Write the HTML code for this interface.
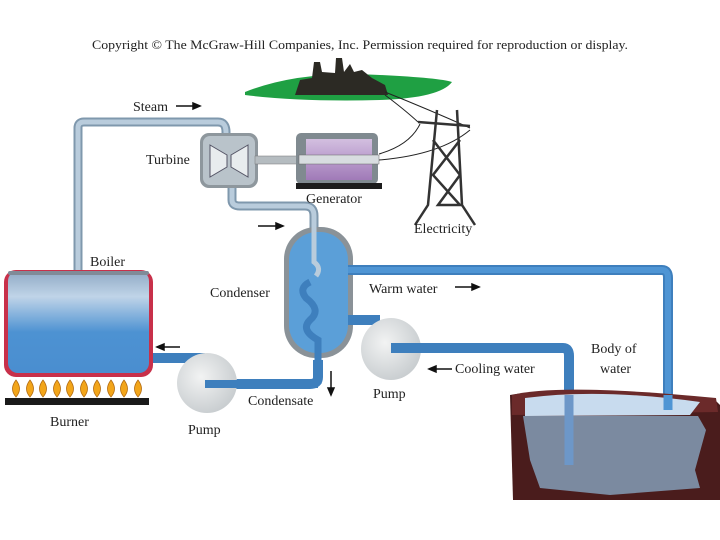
<!DOCTYPE html>
<html><head><meta charset="utf-8"><style>
html,body{margin:0;padding:0;background:#fff;}
svg{display:block;}
text{font-family:"Liberation Serif",serif;font-size:14px;fill:#222;}
</style></head><body>
<svg width="720" height="540" viewBox="0 0 720 540">
<defs>
<linearGradient id="boil" x1="0" y1="0" x2="0" y2="1">
<stop offset="0" stop-color="#8fa9c4"/><stop offset="0.25" stop-color="#c0d4e8"/><stop offset="0.6" stop-color="#4d92d2"/><stop offset="1" stop-color="#4a8ed0"/></linearGradient>
<radialGradient id="pump" cx="0.4" cy="0.4" r="0.7"><stop offset="0" stop-color="#f2f3f3"/><stop offset="1" stop-color="#c4c9cc"/></radialGradient>
<linearGradient id="gen" x1="0" y1="0" x2="0" y2="1"><stop offset="0" stop-color="#d3bfe0"/><stop offset="1" stop-color="#a07ab8"/></linearGradient>
</defs>
<text x="92" y="49" textLength="536" lengthAdjust="spacingAndGlyphs" style="font-size:13px">Copyright © The McGraw-Hill Companies, Inc. Permission required for reproduction or display.</text>
<!-- city -->
<path d="M245 92 Q300 70 380 75 Q440 78 452 82 Q440 98 380 100 Q300 102 245 95Z" fill="#1fa043"/>
<path d="M295 95 L300 80 L312 78 L314 62 L320 62 L322 72 L335 73 L336 58 L342 58 L344 72 L350 64 L354 72 L362 70 L372 78 L385 85 L388 95 Z" fill="#2c2a24"/>
<!-- wires & tower -->
<g stroke="#222" fill="none" stroke-width="1">
<path d="M385 95 Q405 110 418 122"/><path d="M385 92 Q430 110 470 128"/>
<path d="M379 154 Q410 145 420 124"/><path d="M379 160 Q440 155 470 130"/>
</g>
<g stroke="#333" fill="none" stroke-width="2.5">
<path d="M418 122 L470 126"/><path d="M437 110 L428 205 L415 225"/><path d="M457 110 L462 205 L475 225"/>
<path d="M433 140 L460 175 L438 205 L460 205 L433 175 L460 140"/>
</g>
<text x="414" y="233">Electricity</text>
<!-- steam pipe -->
<path d="M78 270 V128 Q78 122 84 122 H218 Q226 122 226 132 V138" stroke="#7f98ad" stroke-width="9" fill="none"/>
<path d="M78 270 V128 Q78 122 84 122 H218 Q226 122 226 132 V138" stroke="#b9ccdc" stroke-width="5" fill="none"/>
<!-- turbine to condenser pipe -->
<path d="M232 185 V200 Q232 206 240 206 H305 Q314 206 314 216 V262 Q322 268 316 276" stroke="#7f98ad" stroke-width="9" fill="none"/>
<!-- condenser -->
<rect x="284" y="227" width="69" height="131" rx="32" fill="#8a9298"/>
<rect x="289" y="232" width="59" height="121" rx="28" fill="#5b9fd8"/>
<path d="M232 185 V200 Q232 206 240 206 H305 Q314 206 314 216 V262 Q322 268 316 276" stroke="#b9ccdc" stroke-width="5" fill="none"/>
<!-- warm water pipe -->
<path d="M348 270 H662 Q668 270 668 278 V410" stroke="#3e7fbd" stroke-width="10" fill="none"/>
<path d="M348 270 H662 Q668 270 668 278 V410" stroke="#4f95d4" stroke-width="6" fill="none"/>
<path d="M318 360 V377 Q318 384 310 384 H205" stroke="#3e7fbd" stroke-width="10" fill="none"/>
<path d="M310 282 Q298 288 306 298 Q322 310 310 320 Q300 330 318 340 V384" stroke="#3e7fbd" stroke-width="7" fill="none"/>
<path d="M348 320 H380" stroke="#3e7fbd" stroke-width="10" fill="none"/>
<!-- pump2 -->
<ellipse cx="391" cy="349" rx="30" ry="31" fill="url(#pump)"/>
<path d="M391 348 H563 Q569 348 569 356 V395" stroke="#3e7fbd" stroke-width="10" fill="none"/>
<!-- boiler -->
<path d="M150 358 H205" stroke="#3e7fbd" stroke-width="10" fill="none"/>
<rect x="4" y="270" width="149" height="107" rx="12" fill="#c8304a"/>
<rect x="8" y="271" width="141" height="102" rx="10" fill="url(#boil)"/>
<rect x="8" y="271" width="141" height="4" rx="2" fill="#808b98"/>
<!-- pump1 -->
<ellipse cx="207" cy="383" rx="30" ry="30" fill="url(#pump)"/>
<path d="M205 384 H318" stroke="#3e7fbd" stroke-width="8" fill="none"/>
<!-- flames -->
<g fill="#f2a51a" stroke="#b36b10" stroke-width="0.8">
<path d="M16 397 Q9 389 16 380 Q23 389 16 397Z"/><path d="M30 397 Q23 389 30 380 Q37 389 30 397Z"/><path d="M43 397 Q36 389 43 380 Q50 389 43 397Z"/><path d="M57 397 Q50 389 57 380 Q64 389 57 397Z"/><path d="M70 397 Q63 389 70 380 Q77 389 70 397Z"/><path d="M84 397 Q77 389 84 380 Q91 389 84 397Z"/><path d="M97 397 Q90 389 97 380 Q104 389 97 397Z"/><path d="M111 397 Q104 389 111 380 Q118 389 111 397Z"/><path d="M124 397 Q117 389 124 380 Q131 389 124 397Z"/><path d="M138 397 Q131 389 138 380 Q145 389 138 397Z"/>
</g>
<rect x="5" y="398" width="144" height="7" fill="#1a1a1a"/>
<!-- turbine -->
<rect x="200" y="133" width="58" height="55" rx="9" fill="#8e979d"/>
<rect x="203" y="136" width="52" height="49" rx="7" fill="#b9c3ca"/>
<path d="M210 145 L227 155 V167 L210 177Z M248 145 L231 155 V167 L248 177Z" fill="#e8ecee" stroke="#556" stroke-width="1"/>
<rect x="255" y="156" width="45" height="8" fill="#b5bcc0" stroke="#777" stroke-width="0.5"/>
<!-- generator -->
<rect x="296" y="133" width="82" height="51" rx="5" fill="#808a90"/>
<rect x="306" y="139" width="66" height="41" fill="url(#gen)"/>
<rect x="299" y="155" width="80" height="9" fill="#d8dde0" stroke="#666" stroke-width="0.5"/>
<rect x="296" y="183" width="86" height="6" fill="#1c1c1c"/>
<!-- body of water -->
<path d="M510 395 Q560 385 715 400 L720 405 V500 H513 Z" fill="#4a1c1c"/>
<path d="M512 395 Q560 383 716 398 L718 412 L512 415Z" fill="#6b2a2a"/>
<path d="M525 398 Q600 388 700 402 L690 415 L525 416Z" fill="#c8dbee"/>
<path d="M523 416 H698 L706 430 L695 470 L700 488 L610 495 L540 488 L530 460Z" fill="#7b8aa0"/>
<path d="M569 395 V465" stroke="#6d97c8" stroke-width="9" fill="none"/>
<path d="M668 395 V410" stroke="#4f95d4" stroke-width="9" fill="none"/>
<!-- arrows -->
<g stroke="#111" stroke-width="1.5" fill="#111">
<path d="M176 106 H196"/><path d="M200 106 L193 103 V109Z"/>
<path d="M258 226 H278"/><path d="M283 226 L276 223 V229Z"/>
<path d="M455 287 H474"/><path d="M479 287 L472 284 V290Z"/>
<path d="M162 347 H180"/><path d="M157 347 L164 344 V350Z"/>
<path d="M434 369 H452"/><path d="M429 369 L436 366 V372Z"/>
<path d="M331 371 V390"/><path d="M331 395 L328 388 H334Z"/>
</g>
<text x="133" y="111">Steam</text>
<text x="146" y="164">Turbine</text>
<text x="306" y="203">Generator</text>
<text x="90" y="266">Boiler</text>
<text x="210" y="297">Condenser</text>
<text x="369" y="293">Warm water</text>
<text x="373" y="398">Pump</text>
<text x="455" y="373">Cooling water</text>
<text x="591" y="353">Body of</text>
<text x="600" y="373">water</text>
<text x="248" y="405">Condensate</text>
<text x="188" y="434">Pump</text>
<text x="50" y="426">Burner</text>
</svg>
</body></html>
